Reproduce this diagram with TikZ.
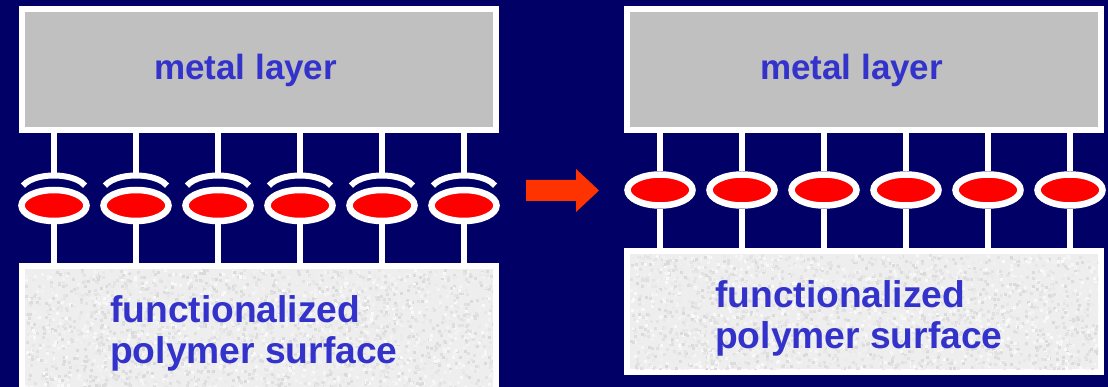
\documentclass[tikz,border=0pt]{standalone}
\usepackage{fontspec}
\setmainfont{Liberation Sans}
\usetikzlibrary{shapes.geometric}
\definecolor{navy}{HTML}{000066}
\definecolor{metal}{HTML}{C0C0C0}
\definecolor{poly}{HTML}{EEEEEE}
\definecolor{txt}{HTML}{3333CC}
\definecolor{arrowred}{HTML}{FF3300}
\definecolor{bead}{HTML}{FF0000}
\begin{document}
\begin{tikzpicture}[x=1pt,y=-1pt,
  box/.style={draw=white, line width=6pt, rectangle, inner sep=0pt, outer sep=0pt, anchor=north west},
  beadnode/.style={ellipse, draw=white, fill=bead, line width=6.5pt, minimum width=65pt, minimum height=31pt, inner sep=0pt},
  stem/.style={draw=white, line width=5.5pt},
  capline/.style={draw=white, line width=6pt},
  mtext/.style={text=txt, font=\fontsize{35}{40}\selectfont\bfseries, inner sep=0pt, anchor=base west},
  ptext/.style={text=txt, font=\fontsize{37.2}{42}\selectfont\bfseries, inner sep=0pt, anchor=base west}]
\useasboundingbox (0,0) rectangle (1108,387);
\clip (0,0) rectangle (1108,387);
\fill[navy] (0,0) rectangle (1108,387);
% boxes
\node[box, fill=metal, minimum width=474.5pt, minimum height=121pt] (M1) at (21.5,9) {};
\node[box, fill=metal, minimum width=474pt, minimum height=121pt] (M2) at (627,9) {};
\node[box, fill=poly, minimum width=474.5pt, minimum height=134pt] (P1) at (21.5,266) {};
\node[box, fill=poly, minimum width=474pt, minimum height=121pt] (P2) at (627,251) {};
% texture
\pgfmathsetseed{7}
\begin{scope}
\clip (24.5,269) rectangle (493,400);
\foreach \i in {1,...,3000}{
  \pgfmathsetmacro\xx{24.5+rnd*470}
  \pgfmathsetmacro\yy{269+rnd*120}
  \pgfmathsetmacro\gg{2+rnd*13}
  \fill[black!\gg!white] (\xx,\yy) rectangle ++(3,3);
}
\end{scope}
\begin{scope}
\clip (630,254) rectangle (1098,369);
\foreach \i in {1,...,3000}{
  \pgfmathsetmacro\xx{630+rnd*470}
  \pgfmathsetmacro\yy{254+rnd*117}
  \pgfmathsetmacro\gg{2+rnd*13}
  \fill[black!\gg!white] (\xx,\yy) rectangle ++(3,3);
}
\end{scope}
% left panel beads
\foreach \i/\x in {1/54,2/136,3/218,4/300,5/382,6/464}{
  \node[beadnode] (L\i) at (\x,205.5) {};
  \coordinate (Lc\i) at (\x,175.5);
  \draw[capline] (\x,191) ++(200:33 and 15.5) arc[start angle=200, end angle=340, x radius=33, y radius=15.5];
  \draw[stem] (Lc\i) -- (Lc\i |- M1.south);
  \draw[stem] (L\i.south) -- (L\i.south |- P1.north);
}
% right panel beads
\foreach \i/\x in {1/660,2/742,3/824,4/906,5/988,6/1070}{
  \node[beadnode] (R\i) at (\x,190) {};
  \draw[stem] (R\i.north) -- (R\i.north |- M2.south);
  \draw[stem] (R\i.south) -- (R\i.south |- P2.north);
}
% arrow
\fill[arrowred] (526,180) -- (576,180) -- (576,169) -- (599,190.5) -- (576,212) -- (576,201) -- (526,201) -- cycle;
% texts
\node[mtext] (t1) at (154,80) {metal layer};
\node[mtext] (t2) at (760,80) {metal layer};
\node[ptext] (t3) at (110,323) {functionalized};
\node[ptext] (t4) at (110,363) {polymer surface};
\node[ptext] (t5) at (715,308) {functionalized};
\node[ptext] (t6) at (715,348) {polymer surface};
\end{tikzpicture}
\end{document}
